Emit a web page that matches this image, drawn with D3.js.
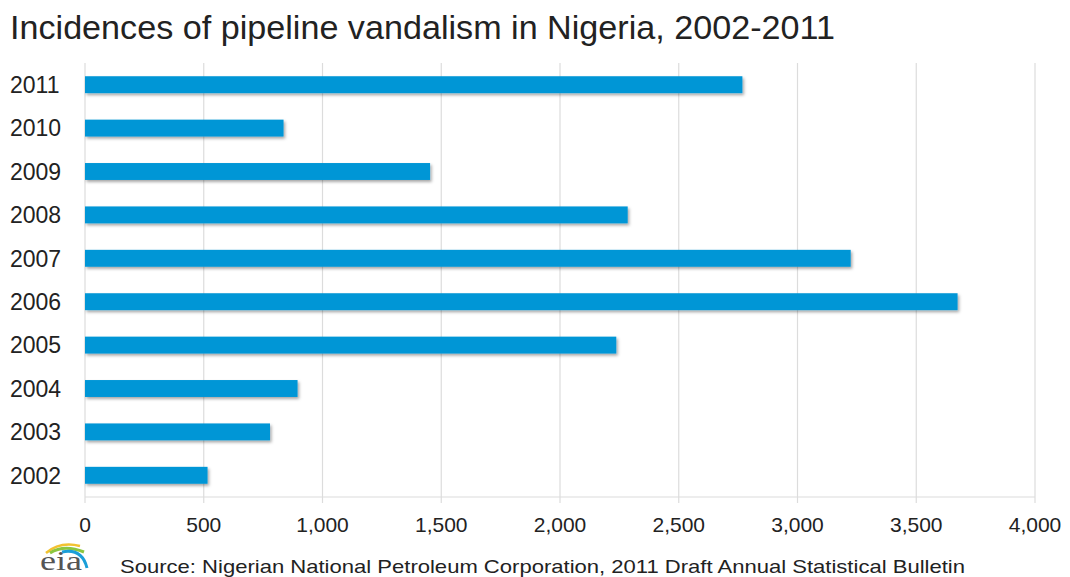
<!DOCTYPE html>
<html><head><meta charset="utf-8">
<script src="https://cdn.jsdelivr.net/npm/d3@7"></script>
<style>body{margin:0;background:#fff;}svg{display:block;font-family:"Liberation Sans",Arial,sans-serif;}</style>
</head><body>
<script>
const years = ["2011","2010","2009","2008","2007","2006","2005","2004","2003","2002"];
const incidents = [2768, 836, 1453, 2285, 3224, 3674, 2237, 895, 779, 516];
const xTicks = [0,500,1000,1500,2000,2500,3000,3500,4000];
const title = "Incidences of pipeline vandalism in Nigeria, 2002-2011";
const source = "Source: Nigerian National Petroleum Corporation,  2011 Draft Annual Statistical Bulletin";

const W = 1070, H = 577;
const m = {left:85, right:35, top:63, bottom:80};
const svg = d3.select("body").append("svg").attr("width",W).attr("height",H);

const defs = svg.append("defs");
const f = defs.append("filter").attr("id","sh").attr("x","-5%").attr("y","-30%").attr("width","110%").attr("height","180%");
f.append("feDropShadow").attr("dx",1.5).attr("dy",2).attr("stdDeviation",1.5).attr("flood-color","#000").attr("flood-opacity",0.35);

const x = d3.scaleLinear().domain([0,4000]).range([m.left, W-m.right]);
const y = d3.scaleBand().domain(years).range([m.top, H-m.bottom]).paddingInner(0.61).paddingOuter(0.305);

svg.append("text").attr("x",10).attr("y",39).attr("font-size",33)
  .attr("textLength",825).attr("lengthAdjust","spacingAndGlyphs").attr("fill","#222").text(title);

// gridlines
svg.append("g").selectAll("line").data(xTicks).join("line")
  .attr("x1",d=>x(d)).attr("x2",d=>x(d)).attr("y1",m.top).attr("y2",H-m.bottom+6)
  .attr("stroke","#dcdcdc").attr("stroke-width",1.2);
// baseline
svg.append("line").attr("x1",x(0)).attr("x2",x(4000)).attr("y1",H-m.bottom).attr("y2",H-m.bottom)
  .attr("stroke","#dcdcdc").attr("stroke-width",1.2);

// bars
svg.append("g").selectAll("rect").data(years).join("rect")
  .attr("x",x(0)).attr("y",d=>y(d)).attr("height",y.bandwidth())
  .attr("width",(d,i)=>x(incidents[i])-x(0))
  .attr("fill","#0096d6").attr("filter","url(#sh)");

// y labels
svg.append("g").selectAll("text").data(years).join("text")
  .attr("x",10).attr("y",d=>y(d)+y.bandwidth()/2).attr("dy","0.36em")
  .attr("font-size",23).attr("fill","#222").text(d=>d);

// x axis labels
const fmt = d3.format(",");
svg.append("g").selectAll("text").data(xTicks).join("text")
  .attr("x",d=>x(d)).attr("y",532).attr("text-anchor","middle")
  .attr("font-size",21).attr("fill","#222").text(d=>fmt(d));

// source
svg.append("text").attr("x",120).attr("y",573).attr("font-size",18.5)
  .attr("textLength",845).attr("lengthAdjust","spacingAndGlyphs").attr("fill","#222").text(source);

// eia logo
const lg = svg.append("g");
lg.append("path").attr("d","M46,553 Q60,541 80,546").attr("fill","none").attr("stroke","#f2c230").attr("stroke-width",2.5);
lg.append("path").attr("d","M50,553 Q64,544 84,552").attr("fill","none").attr("stroke","#8cc63f").attr("stroke-width",3);
lg.append("path").attr("d","M62,552 Q82,548 87,568").attr("fill","none").attr("stroke","#1a9fd9").attr("stroke-width",3);
lg.append("text").attr("x",40).attr("y",570).attr("font-family","Liberation Serif, serif").attr("font-size",28)
  .attr("textLength",42).attr("lengthAdjust","spacingAndGlyphs").attr("fill","#555").text("eia");
</script>
</body></html>
